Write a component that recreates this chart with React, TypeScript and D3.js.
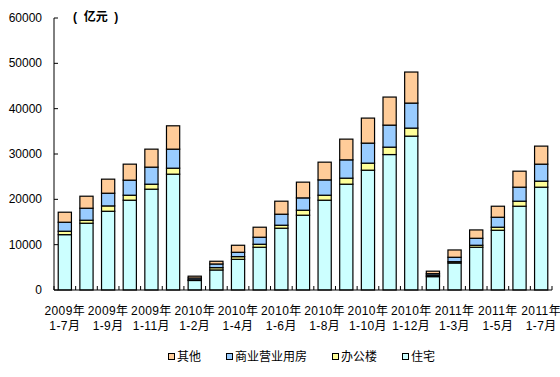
import React from "react";
import * as d3 from "d3";

const categories = [
  "2009年\n1-7月", "2009年\n1-8月", "2009年\n1-9月", "2009年\n1-10月", "2009年\n1-11月", "2009年\n1-12月",
  "2010年\n1-2月", "2010年\n1-3月", "2010年\n1-4月", "2010年\n1-5月", "2010年\n1-6月", "2010年\n1-7月",
  "2010年\n1-8月", "2010年\n1-9月", "2010年\n1-10月", "2010年\n1-11月", "2010年\n1-12月",
  "2011年\n1-2月", "2011年\n1-3月", "2011年\n1-4月", "2011年\n1-5月", "2011年\n1-6月", "2011年\n1-7月",
];

const residential = [12210, 14730, 17370, 19810, 22240, 25550, 2100, 4420, 6770, 9430, 13630, 16500, 19810, 23340, 26430, 29880, 33940, 2950, 5960, 9430, 13180, 18480, 22680];
const office = [750, 660, 1180, 1100, 1100, 1320, 150, 510, 590, 660, 660, 1100, 1100, 1330, 1550, 1630, 1770, 300, 290, 440, 670, 1110, 1330];
const commercial = [1990, 2650, 2800, 3320, 3760, 4200, 400, 810, 960, 1550, 2430, 2720, 3380, 4040, 4420, 4860, 5520, 350, 970, 1540, 2200, 3090, 3750];
const other = [2210, 2650, 3100, 3530, 3970, 5150, 400, 600, 1550, 2210, 2870, 3470, 3910, 4570, 5520, 6190, 6850, 550, 1610, 1840, 2430, 3530, 3980];

const seriesNames = ["住宅", "办公楼", "商业营业用房", "其他"];
const seriesColors = ["#CCFFFF", "#FFFF99", "#99CCFF", "#FFCC99"];
const yTicks = [0, 10000, 20000, 30000, 40000, 50000, 60000];
const legendOrder = ["其他", "商业营业用房", "办公楼", "住宅"];

const FONT = "'Liberation Sans', Arial, 'Noto Sans CJK SC', sans-serif";

export default function App() {
  const W = 560, H = 377;
  const x0 = 54, x1 = 552, yBase = 290, yTop = 18;
  const idx = categories.map((_, i) => i);
  const x = d3.scaleBand<number>().domain(idx).range([x0, x1]).paddingInner(0.39).paddingOuter(0.195);
  const y = d3.scaleLinear().domain([0, 60000]).range([yBase, yTop]);

  const table = idx.map((i) => ({
    i,
    住宅: residential[i],
    办公楼: office[i],
    商业营业用房: commercial[i],
    其他: other[i],
  }));
  const stack = d3.stack<any>().keys(seriesNames)(table);
  const step = x.step();

  const legendX = [168, 226, 332, 402];

  return (
    <svg width={W} height={H} style={{ position: "absolute", left: 0, top: 0, background: "#fff" }}>
      {stack.map((layer, si) => (
        <g key={si}>
          {layer.map((d, i) => (
            <rect
              key={i}
              x={x(i)!}
              y={y(d[1])}
              width={x.bandwidth()}
              height={Math.max(0, y(d[0]) - y(d[1]))}
              fill={seriesColors[si]}
              stroke="#000"
              strokeWidth={1.2}
            />
          ))}
        </g>
      ))}
      <line x1={x0} x2={x0} y1={yTop} y2={yBase} stroke="#000" strokeWidth={1} />
      {yTicks.map((t) => (
        <g key={t}>
          <line x1={x0} x2={x0 + 4} y1={y(t)} y2={y(t)} stroke="#000" />
          <text x={42} y={y(t) + 4} textAnchor="end" fontSize={12} fontFamily={FONT} fill="#000">
            {t}
          </text>
        </g>
      ))}
      <line x1={x0} x2={x1} y1={yBase} y2={yBase} stroke="#000" strokeWidth={1} />
      {d3.range(categories.length + 1).map((k) => (
        <line key={k} x1={x0 + k * step} x2={x0 + k * step} y1={yBase} y2={yBase - 4} stroke="#000" />
      ))}
      {categories.map((c, i) =>
        i % 2 === 0 ? (
          <text key={i} textAnchor="middle" fontSize={12} fontFamily={FONT} fill="#000" letterSpacing={0.4}>
            {c.split("\n").map((ln, k) => (
              <tspan key={k} x={x(i)! + x.bandwidth() / 2} y={315 + k * 15}>
                {ln}
              </tspan>
            ))}
          </text>
        ) : null
      )}
      <text x={73} y={21} fontSize={12} fontWeight="bold" fontFamily={FONT} fill="#000" style={{ whiteSpace: "pre" }}>
        {"(  亿元  )"}
      </text>
      {legendOrder.map((name, k) => {
        const si = seriesNames.indexOf(name);
        return (
          <g key={name}>
            <rect x={legendX[k] + 0.5} y={353.5} width={6} height={6} fill={seriesColors[si]} stroke="#000" />
            <text x={legendX[k] + 9} y={361} fontSize={12} fontFamily={FONT} fill="#000">
              {name}
            </text>
          </g>
        );
      })}
    </svg>
  );
}
